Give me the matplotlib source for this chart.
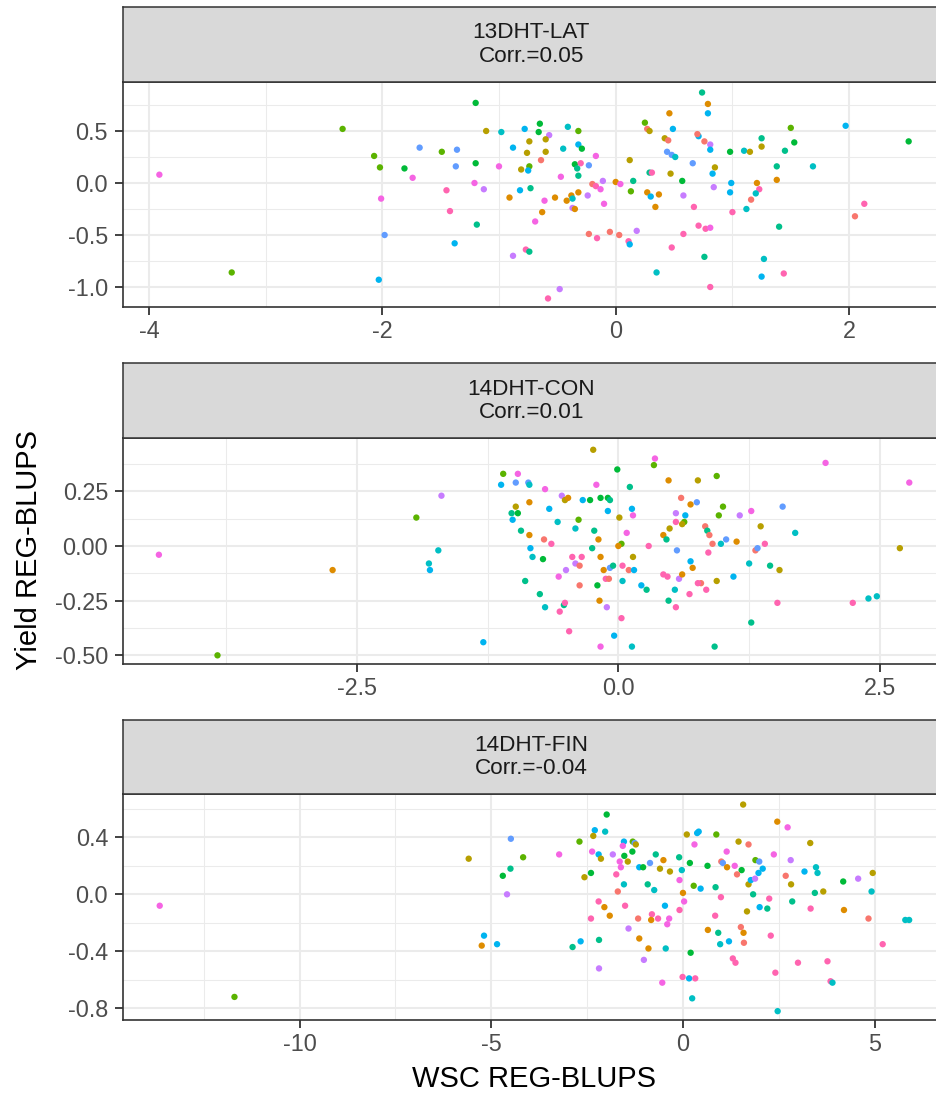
import matplotlib
matplotlib.use("Agg")
import matplotlib.pyplot as plt

plt.rcParams['font.family'] = ['Liberation Sans', 'DejaVu Sans']

W, H = 937, 1093

# ggplot-style hue palette, 12 groups
group_colors = {
    "R": "#F8766D", "O": "#DE8C00", "Y": "#B79F00", "L": "#5BB300",
    "G": "#00BA38", "T": "#00C08B", "C": "#00BFC4", "B": "#00B4F0",
    "P": "#619CFF", "V": "#C77CFF", "M": "#F564E3", "K": "#FF64B0",
}

panel_names = ["13DHT-LAT", "14DHT-CON", "14DHT-FIN"]
panel_corr = ["0.05", "0.01", "-0.04"]

# ---- 13DHT-LAT ----
lat_wsc = [
    -3.91, -3.29, -2.34, -2.07, -2.02, -1.81, -1.68, -1.74, -2.01, -1.98, -2.03,
    -1.49, -1.36, -1.37, -1.45, -1.42, -1.38, -1.19, -1.20, -1.20, -1.21, -1.13,
    -1.11, -0.98, -0.78, -0.65, -0.66, -0.41, -0.32, -0.57, -0.60, -0.74, -0.88,
    -0.76, -0.60, -0.45, -0.32, -0.29, -0.64, -1.00, -0.81, -0.74, -0.75, -0.35,
    -0.30, -0.33, -0.32, -0.47, -0.17, -0.23, -0.82, -0.73, -0.91, -0.61, -0.52,
    -0.42, -0.38, -0.32, -0.37, -0.37, -0.35, -0.24, -0.20, -0.17, -0.13, -0.11,
    -0.10, -0.63, -0.69, -0.77, -0.74, -0.88, -0.48, -0.58, -0.23, -0.16, -0.05,
    0.03, 0.00, 0.04, 0.12, 0.15, 0.13, 0.18, 0.11, 0.12, 0.25, 0.27, 0.29,
    0.46, 0.49, 0.42, 0.45, 0.44, 0.48, 0.51, 0.29, 0.31, 0.47, 0.57, 0.27,
    0.30, 0.37, 0.34, 0.58, 0.67, 0.48, 0.58, 0.35, 0.76, 0.81, 0.74, 0.79,
    0.79, 0.71, 0.70, 0.76, 0.81, 0.81, 0.66, 0.85, 0.83, 0.84, 0.71, 0.77,
    0.81, 0.98, 1.10, 1.15, 1.25, 1.25, 0.99, 0.98, 1.00, 1.21, 1.23, 1.20,
    1.16, 1.12, 1.27, 1.25, 1.44, 1.40, 1.38, 1.38, 1.45, 1.50, 1.53, 1.69,
    1.97, 2.05, 2.13, 2.51,
]
lat_yield = [
    0.08, -0.86, 0.52, 0.26, 0.15, 0.14, 0.34, 0.05, -0.15, -0.50, -0.93,
    0.30, 0.32, 0.16, -0.07, -0.27, -0.58, -0.40, 0.77, 0.19, 0.00, -0.06,
    0.50, 0.49, 0.52, 0.57, 0.49, 0.54, 0.50, 0.46, 0.42, 0.40, 0.34,
    0.29, 0.30, 0.33, 0.37, 0.33, 0.22, 0.16, 0.13, 0.16, 0.12, 0.18,
    0.19, 0.14, 0.07, 0.06, 0.26, 0.17, -0.07, -0.05, -0.14, -0.17, -0.14,
    -0.17, -0.12, -0.09, -0.15, -0.24, -0.25, -0.12, -0.01, -0.03, -0.06, 0.02,
    -0.20, -0.28, -0.37, -0.64, -0.66, -0.70, -1.02, -1.11, -0.49, -0.53, -0.47,
    -0.50, 0.01, -0.01, 0.22, 0.02, -0.08, -0.46, -0.56, -0.59, 0.58, 0.52, 0.50,
    0.67, 0.52, 0.43, 0.41, 0.30, 0.27, 0.25, 0.10, 0.10, 0.09, 0.02, -0.09,
    -0.13, -0.11, -0.23, -0.12, -0.23, -0.62, -0.49, -0.86, -0.71, -1.00, 0.87, 0.76,
    0.67, 0.45, 0.47, 0.40, 0.37, 0.32, 0.19, 0.15, 0.09, -0.04, -0.41, -0.44,
    -0.43, 0.30, 0.31, 0.30, 0.43, 0.35, 0.00, -0.09, -0.28, 0.00, -0.06, -0.10,
    -0.16, -0.25, -0.73, -0.90, -0.87, -0.42, 0.16, 0.03, 0.31, 0.53, 0.39, 0.16,
    0.55, -0.32, -0.20, 0.40,
]
lat_group = (
    "MLLLLGPMMPB"
    "LPPKKBTGGMV"
    "YCBGGCLVYYB"
    "YYCBGRMYLBG"
    "KTTMMPBTOMO"
    "OOOCVOVRKMV"
    "MOMKTVVKRKR"
    "ROMYTLVKBLRY"
    "OBYRPPCTKYGO"
    "BOOVKKKCTKTO"
    "BBRRVBPYBVKK"
    "MGCYTYBBKOKC"
    "RCCBKTTOTLGC"
    "BRKG"
)

# ---- 14DHT-CON ----
con_wsc = [
    -4.39, -3.83, -2.73, -1.93, -1.69, -1.72, -1.81, -1.80, -1.29,
    -1.10, -0.96, -1.12, -0.98, -0.86, -0.85, -0.85, -0.98, -1.02, -0.96,
    -1.01, -0.93, -0.85, -0.70, -0.24, -0.54, -0.51, -0.48, -0.66, -0.58,
    -0.34, -0.27, -0.17, -0.10, -0.08, -0.21, -0.10, -0.38, -0.41, -0.23,
    -0.19, -0.25, -0.71, -0.64, -0.84, -0.82, -0.72, -0.89, -0.75, -0.70,
    -0.44, -0.35, -0.41, -0.37, -0.50, -0.57, -0.37, -0.17, -0.14, -0.08,
    -0.05, -0.12, -0.09, -0.20, -0.18, -0.52, -0.51, -0.56, -0.11, -0.47,
    -0.17, -0.04, 0.13, 0.03, -0.01, 0.11, 0.13, 0.14, 0.01, 0.08,
    0.03, 0.00, 0.14, 0.04, 0.10, 0.15, 0.04, 0.22, 0.27, 0.35,
    0.34, 0.48, 0.76, 0.94, 0.60, 0.69, 0.75, 0.55, 0.64, 0.55,
    0.63, 0.61, 0.49, 0.43, 0.46, 0.29, 0.56, 0.69, 0.71, 0.43,
    0.47, 0.58, 0.61, 0.79, 0.76, 0.84, 0.68, 0.54, 0.48, 0.55,
    0.92, 0.83, 0.85, 0.87, 0.90, 0.98, 1.03, 1.13, 0.86, 0.94,
    1.00, 0.96, 1.10, 1.16, 1.27, 1.57, 1.36, 1.40, 1.31, 1.33,
    1.25, 1.45, 1.54, 1.52, 1.27, 1.69, 1.98, 2.78, 2.69, 2.24,
    2.39, 2.47,
]
con_yield = [
    -0.04, -0.50, -0.11, 0.13, 0.23, -0.02, -0.08, -0.11, -0.44,
    0.33, 0.33, 0.28, 0.29, 0.29, 0.28, 0.20, 0.18, 0.15, 0.15,
    0.12, 0.07, 0.05, 0.26, 0.44, 0.23, 0.21, 0.22, 0.17, 0.11,
    0.21, 0.21, 0.22, 0.22, 0.21, 0.28, 0.16, 0.12, 0.08, 0.07,
    0.03, -0.01, 0.03, 0.01, -0.01, -0.05, -0.06, -0.16, -0.22, -0.28,
    -0.05, -0.05, -0.08, -0.09, -0.11, -0.14, -0.18, -0.05, -0.11, -0.10,
    -0.09, -0.15, -0.15, -0.18, -0.25, -0.27, -0.26, -0.30, -0.28, -0.39,
    -0.46, -0.41, -0.46, -0.33, 0.35, 0.27, 0.17, 0.14, 0.13, 0.06,
    0.01, 0.00, -0.05, -0.09, -0.11, -0.11, -0.16, -0.18, -0.20, 0.40,
    0.37, 0.30, 0.30, 0.32, 0.22, 0.19, 0.20, 0.15, 0.14, 0.11,
    0.11, 0.10, 0.08, 0.05, 0.03, 0.00, -0.02, -0.07, -0.10, -0.13,
    -0.14, -0.15, -0.13, -0.17, -0.17, -0.20, -0.22, -0.20, -0.25, -0.28,
    -0.46, 0.09, 0.07, 0.05, 0.01, 0.01, 0.03, 0.02, -0.03, -0.16,
    0.18, 0.14, -0.14, 0.14, 0.16, 0.18, 0.09, 0.01, -0.02, -0.01,
    -0.08, -0.09, -0.11, -0.26, -0.35, 0.06, 0.38, 0.29, -0.01, -0.26,
    -0.24, -0.23,
]
con_group = (
    "MLOLVCCBB"
    "LMBPPCOYTG"
    "BTOMYVYOBC"
    "BGGGTMBLCT"
    "OTRKBCGTTC"
    "KKVRVMROOP"
    "TKRGOTKKVK"
    "MBCKGTBMYM"
    "LOYKRBCBTM"
    "LOYLROPVBK"
    "LYYOTKPBOK"
    "KVORKKKCTK"
    "TRTRRCPOKY"
    "LLBVMPYKRP"
    "CTYKTCMMYK"
    "CC"
)

# ---- 14DHT-FIN ----
fin_wsc = [
    -13.65, -11.70, -5.59, -5.19, -5.25, -4.85, -4.49, -4.17, -4.50, -4.70,
    -4.59, -3.23, -1.99, -2.30, -2.03, -2.34, -2.70, -2.37, -2.20, -2.14,
    -2.57, -2.40, -1.83, -1.54, -1.31, -1.26, -1.23, -1.57, -1.53, -1.32,
    -1.44, -1.65, -1.62, -0.71, -1.14, -1.04, -0.86, -0.51, -0.60, -0.34,
    -0.10, -0.03, -1.74, -1.54, -1.70, -0.92, -0.75, -0.09, -2.20, -2.05,
    -1.91, -2.40, -1.51, -1.17, -0.81, -0.83, -0.65, -0.36, -0.41, -0.47,
    -0.09, 0.00, 0.03, -1.42, -1.14, -0.90, -0.45, -2.19, -2.67, -2.88,
    -2.19, -1.02, -0.54, -0.01, 0.16, 0.32, 0.24, 0.20, 0.10, 0.37,
    0.41, 0.30, 0.18, 0.28, 0.46, 0.64, 0.87, 1.57, 1.45, 1.71,
    1.14, 1.00, 1.04, 1.15, 1.35, 1.53, 1.41, 0.85, 0.99, 0.84,
    1.71, 1.89, 1.99, 2.08, 1.97, 1.77, 1.88, 1.83, 1.67, 2.00,
    2.20, 2.25, 0.92, 0.65, 1.51, 1.58, 1.59, 1.20, 0.97, 1.30,
    1.37, 2.29, 2.41, 2.47, 2.46, 2.73, 2.37, 2.81, 2.68, 2.82,
    2.85, 3.32, 3.17, 3.47, 3.51, 3.44, 3.66, 3.33, 3.00, 3.77,
    3.85, 3.90, 4.18, 4.20, 4.57, 4.95, 4.92, 4.84, 5.21, 5.80,
    5.90,
]
fin_yield = [
    -0.08, -0.72, 0.25, -0.29, -0.36, -0.35, 0.39, 0.26, 0.18, 0.13,
    0.00, 0.28, 0.56, 0.45, 0.44, 0.41, 0.37, 0.30, 0.28, 0.25,
    0.12, 0.15, 0.28, 0.37, 0.37, 0.36, 0.35, 0.34, 0.27, 0.30,
    0.23, 0.23, 0.19, 0.28, 0.19, 0.19, 0.22, 0.24, 0.18, 0.16,
    0.26, 0.17, 0.14, 0.07, 0.02, 0.07, 0.03, 0.10, -0.05, -0.09,
    -0.15, -0.17, -0.08, -0.17, -0.14, -0.18, -0.17, -0.17, -0.21, -0.08,
    -0.11, 0.01, -0.05, -0.24, -0.31, -0.38, -0.38, -0.32, -0.33, -0.37,
    -0.52, -0.46, -0.62, -0.58, -0.59, -0.59, -0.73, -0.41, 0.42, 0.43,
    0.44, 0.35, 0.22, 0.06, 0.04, 0.20, 0.42, 0.63, 0.37, 0.35,
    0.30, 0.23, 0.22, 0.19, 0.20, 0.17, 0.14, 0.05, -0.02, -0.15,
    0.07, 0.24, 0.23, 0.18, 0.15, 0.10, 0.11, 0.00, -0.12, -0.09,
    -0.10, -0.03, -0.27, -0.25, -0.23, -0.27, -0.34, -0.33, -0.35, -0.45,
    -0.48, -0.29, -0.55, -0.82, 0.51, 0.47, 0.28, 0.24, 0.13, 0.07,
    -0.05, 0.36, 0.16, 0.19, 0.15, 0.01, 0.02, -0.10, -0.48, -0.47,
    -0.61, -0.62, 0.09, -0.11, 0.11, 0.15, 0.02, -0.17, -0.35, -0.18,
    -0.18,
]
fin_group = (
    "MLYBOBPLTG"
    "VMGBCYLMBY"
    "YGVBLPYMGG"
    "YMMTBGPOYY"
    "TCKCRTCMKO"
    "OKKRKOKMMB"
    "KOMVOOCTBT"
    "VVMKBKCGYB"
    "BMGLBGLYYR"
    "MRPOMGRTKK"
    "YLPBBBVTYB"
    "TKTORORBCK"
    "KKKCOMMVRY"
    "TYBCCTYKKK"
    "KCGOVYCRKC"
    "C"
)

panels = [
    dict(x=lat_wsc, y=lat_yield, g=lat_group,
         xlim=(-4.219, 2.770), ylim=(-1.195, 0.971),
         xmaj=[-4, -2, 0, 2], xlab=["-4", "-2", "0", "2"], xmin=[-3, -1, 1],
         ymaj=[-1.0, -0.5, 0.0, 0.5], ylab=["-1.0", "-0.5", "0.0", "0.5"],
         ymin=[-0.75, -0.25, 0.25, 0.75],
         strip_top=6.7, top=82.0, bottom=307.3),
    dict(x=con_wsc, y=con_yield, g=con_group,
         xlim=(-4.730, 3.064), ylim=(-0.5396, 0.4925),
         xmaj=[-2.5, 0.0, 2.5], xlab=["-2.5", "0.0", "2.5"], xmin=[-3.75, -1.25, 1.25],
         ymaj=[-0.5, -0.25, 0.0, 0.25], ylab=["-0.50", "-0.25", "0.00", "0.25"],
         ymin=[-0.375, -0.125, 0.125, 0.375],
         strip_top=363.3, top=438.3, bottom=664.0),
    dict(x=fin_wsc, y=fin_yield, g=fin_group,
         xlim=(-14.60, 6.679), ylim=(-0.882, 0.702),
         xmaj=[-10, -5, 0, 5], xlab=["-10", "-5", "0", "5"], xmin=[-12.5, -7.5, -2.5, 2.5],
         ymaj=[-0.8, -0.4, 0.0, 0.4], ylab=["-0.8", "-0.4", "0.0", "0.4"],
         ymin=[-0.6, -0.2, 0.2, 0.6],
         strip_top=720.0, top=794.3, bottom=1020.0),
]

LEFT, RIGHT = 123.3, 939.0


def rect(left, top, right, bottom):
    return [left / W, 1 - bottom / H, (right - left) / W, (bottom - top) / H]


fig = plt.figure(figsize=(W / 100, H / 100), dpi=100)

border = "#333333"
for p, name, corr in zip(panels, panel_names, panel_corr):
    ax = fig.add_axes(rect(LEFT, p["top"], RIGHT, p["bottom"]))
    ax.set_xlim(*p["xlim"])
    ax.set_ylim(*p["ylim"])
    ax.set_xticks(p["xmaj"])
    ax.set_xticklabels(p["xlab"])
    ax.set_xticks(p["xmin"], minor=True)
    ax.set_yticks(p["ymaj"])
    ax.set_yticklabels(p["ylab"])
    ax.set_yticks(p["ymin"], minor=True)
    ax.grid(which="major", color="#EBEBEB", linewidth=1.45, zorder=0)
    ax.grid(which="minor", color="#EBEBEB", linewidth=0.75, zorder=0)
    ax.set_axisbelow(True)
    ax.tick_params(which="major", length=6, width=1.3, color=border,
                   labelsize=16.8, labelcolor="#4D4D4D")
    ax.tick_params(axis="x", which="major", pad=3.5)
    ax.tick_params(axis="y", which="major", pad=5)
    ax.tick_params(which="minor", length=0)
    for s in ax.spines.values():
        s.set_color(border)
        s.set_linewidth(1.2)
    cols = [group_colors[c] for c in p["g"]]
    ax.scatter(p["x"], p["y"], s=21, c=cols, linewidths=0, zorder=3)

    sax = fig.add_axes(rect(LEFT, p["strip_top"], RIGHT, p["top"]))
    sax.set_facecolor("#D9D9D9")
    sax.set_xticks([])
    sax.set_yticks([])
    for s in sax.spines.values():
        s.set_color(border)
        s.set_linewidth(1.1)
    sax.text(0.5, 0.5, f"{name}\nCorr.={corr}", transform=sax.transAxes,
             ha="center", va="center", fontsize=16.2, color="#1A1A1A",
             linespacing=1.15)

fig.text(534 / W, 1 - 1087 / H, "WSC REG-BLUPS", ha="center", va="baseline",
         fontsize=21, color="black")
fig.text(29 / W, 1 - 550 / H, "Yield REG-BLUPS", ha="center", va="center",
         rotation=90, fontsize=21, color="black")

fig.savefig("out.png", dpi=100)
